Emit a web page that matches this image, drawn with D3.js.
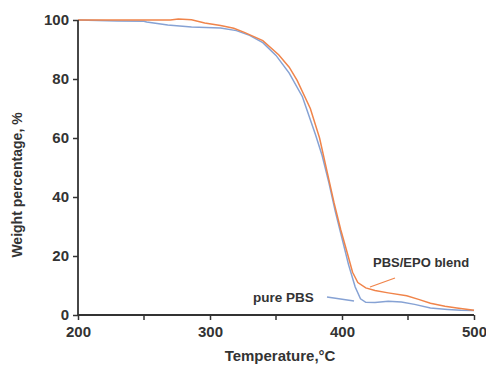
<!DOCTYPE html>
<html>
<head>
<meta charset="utf-8">
<script src="https://cdn.jsdelivr.net/npm/d3@7"></script>
<style>
  body { margin: 0; background: #fff; }
  text { font-family: "Liberation Sans", Arial, sans-serif; font-weight: bold; fill: #333; }
</style>
</head>
<body>
<script>
// pure PBS
const pbsTemp = [200, 230, 250, 252, 268, 286, 308, 320, 330, 340, 350, 360, 370, 380, 385, 390, 395, 400, 405, 410, 414, 418, 425, 435, 445, 455, 467, 480, 490, 500];
const pbsWeight = [100, 99.7, 99.6, 99.3, 98.3, 97.6, 97.3, 96.4, 94.8, 92.3, 88, 82, 74, 61, 54, 45, 35, 26, 17, 9.5, 5.5, 4.3, 4.2, 4.7, 4.4, 3.6, 2.4, 1.9, 1.6, 1.5];

// PBS/EPO blend
const blendTemp = [200, 250, 270, 276, 286, 296, 308, 318, 326, 340, 352, 360, 366, 376, 383, 389, 394, 399, 404, 408, 412, 418, 425, 435, 449, 458, 467, 478, 487, 500];
const blendWeight = [100, 100, 100, 100.3, 100.1, 99, 98.1, 97.2, 95.8, 93, 88.2, 84, 79.5, 70, 60, 48, 38, 29, 21, 14.5, 11, 9.2, 8.3, 7.5, 6.5, 5.3, 4, 3, 2.4, 1.6];

const xTicks = [200, 300, 400, 500];
const xMinor = [250, 350, 450];
const yTicks = [0, 20, 40, 60, 80, 100];

const W = 486, H = 365;
const svg = d3.select("body").append("svg").attr("width", W).attr("height", H);

const x = d3.scaleLinear().domain([200, 500]).range([78, 474]);
const y = d3.scaleLinear().domain([0, 100]).range([315, 20]);

const line = d3.line().x((d) => x(d[0])).y((d) => y(d[1]));

svg.append("path")
  .datum(d3.zip(pbsTemp, pbsWeight))
  .attr("d", line)
  .attr("fill", "none")
  .attr("stroke", "#86a2d4")
  .attr("stroke-width", 1.5);

svg.append("path")
  .datum(d3.zip(blendTemp, blendWeight))
  .attr("d", line)
  .attr("fill", "none")
  .attr("stroke", "#f0844a")
  .attr("stroke-width", 1.5);

// axes
const xAxis = svg.append("g")
  .attr("transform", `translate(0,${y(0)})`)
  .call(d3.axisBottom(x).tickValues(xTicks).tickSize(5).tickPadding(6));
xAxis.append("g").selectAll("line").data(xMinor).enter().append("line")
  .attr("x1", (d) => x(d)).attr("x2", (d) => x(d))
  .attr("y1", 0).attr("y2", 5).attr("stroke", "#333").attr("stroke-width", 1.5);

const yAxis = svg.append("g")
  .attr("transform", `translate(${x(200)},0)`)
  .call(d3.axisLeft(y).tickValues(yTicks).tickSize(5).tickPadding(4));

[xAxis, yAxis].forEach((g) => {
  g.select(".domain").attr("stroke", "#333").attr("stroke-width", 1.8);
  g.selectAll(".tick line").attr("stroke", "#333").attr("stroke-width", 1.5);
  g.selectAll(".tick text").attr("font-size", 15).attr("fill", "#333")
    .attr("font-family", "Liberation Sans, Arial, sans-serif").attr("font-weight", "bold");
});
xAxis.select(".domain").attr("d", `M${x(200)},0H${x(500)}`);
yAxis.select(".domain").attr("d", `M0,${y(0)}V${y(100)}`);

// axis titles
svg.append("text")
  .attr("x", 280).attr("y", 361)
  .attr("text-anchor", "middle")
  .attr("font-size", 15)
  .text("Temperature,°C");

svg.append("text")
  .attr("transform", `translate(22,185) rotate(-90)`)
  .attr("text-anchor", "middle")
  .attr("font-size", 14)
  .text("Weight percentage, %");

// series labels
svg.append("text").attr("x", 373).attr("y", 267).attr("font-size", 13).text("PBS/EPO blend");
svg.append("line")
  .attr("x1", 370).attr("y1", 287).attr("x2", 395).attr("y2", 278)
  .attr("stroke", "#f0844a").attr("stroke-width", 1.3);

svg.append("text").attr("x", 253).attr("y", 302).attr("font-size", 13.5).text("pure PBS");
svg.append("line")
  .attr("x1", 327).attr("y1", 297).attr("x2", 354).attr("y2", 301)
  .attr("stroke", "#86a2d4").attr("stroke-width", 1.3);
</script>
</body>
</html>
